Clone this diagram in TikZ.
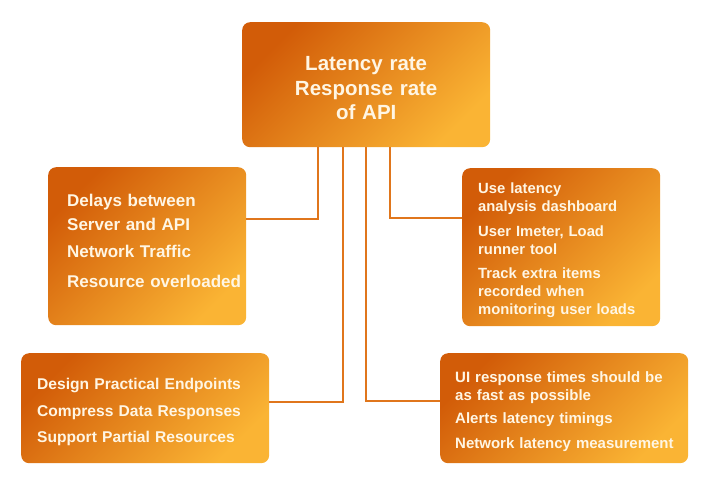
\documentclass[tikz,border=0pt]{standalone}
\usepackage{fontspec}
\setmainfont{Liberation Sans}[WordSpace=0.85]
\definecolor{odark}{RGB}{210,92,8}
\definecolor{olight}{RGB}{250,180,52}
\definecolor{cream}{RGB}{255,246,228}
\definecolor{oline}{RGB}{224,118,28}
\newcommand\topgap[1]{\rule{0pt}{#1}}
\newcommand\botgap[1]{\rule[-#1]{0pt}{1pt}}
\tikzset{
  card/.style={rounded corners=8pt, top color=odark, bottom color=olight,
    shading angle=45, text=cream, font=\bfseries\fontsize{15}{18}\selectfont,
    align=left, inner xsep=16pt, inner ysep=0pt, anchor=north west},
  link/.style={draw=oline, line width=2.2pt}
}
\begin{document}
\begin{tikzpicture}[x=1pt,y=-1pt]
\useasboundingbox (0,0) rectangle (720,480);
\node[card, text width=216pt, minimum height=125pt, align=center,
  font=\bfseries\fontsize{20.5}{24.5}\selectfont] (top) at (242,22)
  {\topgap{21pt}Latency rate\\Response rate\\of API};
\node[card, inner xsep=19pt, text width=160pt, minimum height=158pt,
  font=\bfseries\fontsize{17}{24}\selectfont] (l1) at (48,167)
  {Delays between\\Server and API\\[3pt]Network Traffic\\[6pt]\mbox{Resource overloaded}\botgap{10pt}};
\node[card, text width=166pt, minimum height=158pt,
  font=\bfseries\fontsize{14.8}{18}\selectfont] (r1) at (462,168)
  {\topgap{16pt}Use latency\\analysis dashboard\\[7pt]User Imeter, Load\\runner tool\\[6pt]Track extra items\\recorded when\\monitoring user loads};
\node[card, text width=216pt, minimum height=110pt,
  font=\bfseries\fontsize{15.6}{26}\selectfont] (bl) at (21,353)
  {\topgap{19pt}Design Practical Endpoints\\[1pt]Compress Data Responses\\Support Partial Resources};
\node[card, inner xsep=15pt, text width=218pt, minimum height=110pt] (br) at (440,353)
  {\topgap{17pt}UI response times should be\\as fast as possible\\[5pt]Alerts latency timings\\[7pt]\mbox{Network latency measurement}};
\draw[link] ([xshift=-48pt]top.south) |- ([yshift=27pt]l1.east);
\draw[link] ([xshift=-23pt]top.south) |- ([yshift=6pt]bl.east);
\draw[link] (top.south) |- ([yshift=7pt]br.west);
\draw[link] ([xshift=24pt]top.south) |- ([yshift=29pt]r1.west);
\end{tikzpicture}
\end{document}
